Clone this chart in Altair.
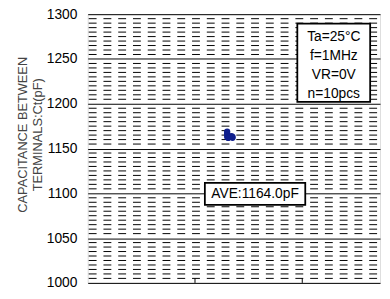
import altair as alt
import pandas as pd

# data
pt_x = [1.30, 1.30, 1.30, 1.30, 1.31, 1.35, 1.35, 1.34, 1.32, 1.31]
pt_ct = [1169, 1167, 1165, 1163, 1162, 1163, 1162, 1164, 1163, 1162]
major_ticks = [1000, 1050, 1100, 1150, 1200, 1250, 1300]
minor_grid = [v for v in range(1005, 1300, 5) if v % 50 != 0]
x_ticks = [1, 2]
cond_lines = ["Ta=25°C", "f=1MHz", "VR=0V", "n=10pcs"]
cond_y = [1274.5, 1253.2, 1231.9, 1210.6]
ave_label = "AVE:1164.0pF"

XMAX = 2.725
xs = alt.Scale(domain=[0, XMAX], nice=False, zero=False)
ys = alt.Scale(domain=[1000, 1300], nice=False, zero=False)
FONT = "Liberation Sans"

pts = pd.DataFrame({"x": pt_x, "ct": pt_ct})
minor = pd.DataFrame({"y": minor_grid})
xt = pd.DataFrame({"x": x_ticks, "y": [1000] * len(x_ticks), "y2": [1005] * len(x_ticks)})
cond = pd.DataFrame({"t": cond_lines, "y": cond_y, "x": [2.294] * 4})
box1 = pd.DataFrame({"x": [1.954], "x2": [2.633], "y": [1289.4], "y2": [1202.1]})
box2 = pd.DataFrame({"x": [1.092], "x2": [2.028], "y": [1111.7], "y2": [1087.2]})
ave = pd.DataFrame({"t": [ave_label], "x": [1.56], "y": [1099.5]})

yaxis = alt.Axis(
    values=major_ticks, format="d", grid=True, gridColor="black", gridWidth=1, gridOpacity=1,
    ticks=False, domain=False, labelFont=FONT, labelFontSize=14, labelColor="black",
    labelPadding=11,
    title=["CAPACITANCE BETWEEN", "TERMINALS:Ct(pF)"], titleFont=FONT,
    titleFontSize=13, titleFontWeight="normal", titleColor="#444",
    titleLineHeight=15, titleAngle=-90, titleAlign="center", titleBaseline="top",
    titleX=-72, titleY=122,
)
xaxis = alt.Axis(labels=False, ticks=False, grid=False, domain=False, title=None)

base = alt.Chart(pts).mark_point(opacity=0).encode(
    x=alt.X("x:Q", scale=xs, axis=xaxis),
    y=alt.Y("ct:Q", scale=ys, axis=yaxis),
)

minor_layer = alt.Chart(minor).mark_rule(
    color="black", strokeWidth=1, strokeDash=[8, 7], strokeDashOffset=-3
).encode(y=alt.Y("y:Q", scale=ys))

tick_layer = alt.Chart(xt).mark_rule(color="black", strokeWidth=1).encode(
    x=alt.X("x:Q", scale=xs), y=alt.Y("y:Q", scale=ys), y2="y2:Q"
)

b1 = alt.Chart(box1).mark_rect(fill="white", stroke="black", strokeWidth=1.8).encode(
    x=alt.X("x:Q", scale=xs), x2="x2:Q", y=alt.Y("y:Q", scale=ys), y2="y2:Q"
)
t1 = alt.Chart(cond).mark_text(font=FONT, fontSize=14, color="black").encode(
    x=alt.X("x:Q", scale=xs), y=alt.Y("y:Q", scale=ys), text="t:N"
)
b2 = alt.Chart(box2).mark_rect(fill="white", stroke="black", strokeWidth=1.8).encode(
    x=alt.X("x:Q", scale=xs), x2="x2:Q", y=alt.Y("y:Q", scale=ys), y2="y2:Q"
)
t2 = alt.Chart(ave).mark_text(font=FONT, fontSize=14, color="black").encode(
    x=alt.X("x:Q", scale=xs), y=alt.Y("y:Q", scale=ys), text="t:N"
)

points = alt.Chart(pts).mark_circle(size=40, color="#101f8c", opacity=1).encode(
    x=alt.X("x:Q", scale=xs), y=alt.Y("ct:Q", scale=ys)
)

chart = alt.layer(base, minor_layer, tick_layer, b1, t1, b2, t2, points).properties(
    width=297, height=273,
    autosize=alt.AutoSizeParams(type="none"),
    padding={"left": 81, "top": 4, "right": 2, "bottom": 9},
).configure_view(stroke="black", strokeWidth=2.5).configure(background="white")

chart.save("out.html", embed_options={"renderer": "svg", "actions": False})
